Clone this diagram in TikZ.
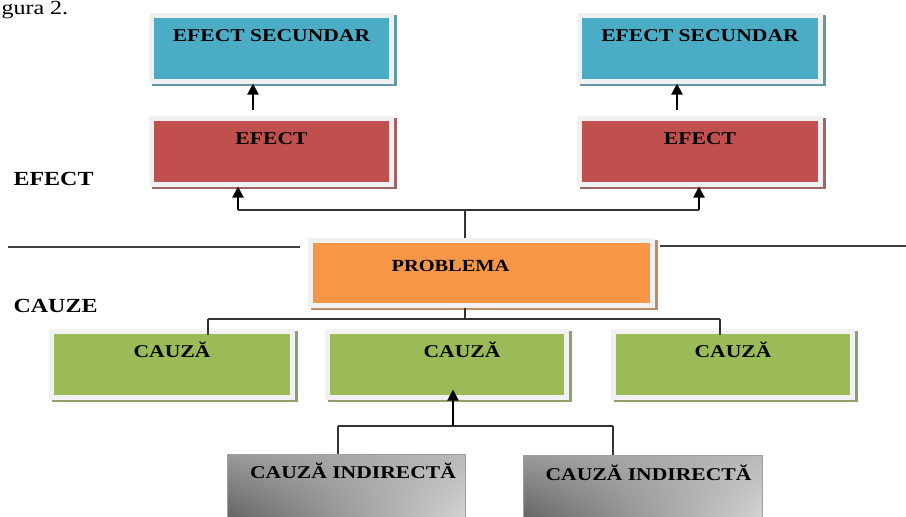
\documentclass[tikz,border=0pt]{standalone}
\usepackage{fontspec}
\setmainfont{Liberation Serif}[FakeStretch=1.2]
\usetikzlibrary{arrows.meta,shadows,shadings}
\definecolor{efsec}{HTML}{4BACC6}
\definecolor{efred}{HTML}{C0504D}
\definecolor{probor}{HTML}{F79646}
\definecolor{cauzgr}{HTML}{9BBB59}
\definecolor{frame}{HTML}{F1F1F1}
\begin{document}
\begin{tikzpicture}[x=1pt,y=-1pt,
  box/.style={fill=#1, draw=frame, line width=5pt, inner sep=0pt, anchor=north,
    minimum width=240pt, text height=26pt, text depth=40pt,
    font=\fontsize{18}{20}\selectfont\bfseries,
    general shadow={fill=#1!55!gray, draw=#1!55!gray, line width=5pt,
      shadow xshift=2.5pt, shadow yshift=-2.5pt}},
  greybox/.style={shade, upper left=gray!80, upper right=gray!55,
    lower left=black!65, lower right=gray!30, draw=gray!75, line width=1pt,
    inner sep=0pt, anchor=north, minimum width=238pt, text height=24pt,
    text depth=52pt, font=\fontsize{18}{20}\selectfont\bfseries},
  link/.style={line width=1.5pt, black!80},
  arr/.style={line width=2pt, -{Triangle[width=11pt,length=11pt]}},
  sep/.style={line width=1.2pt, black!75},
  side/.style={anchor=base west, font=\fontsize{20}{22}\selectfont\bfseries}]
\useasboundingbox (0,0) rectangle (906,517);
\clip (0,0) rectangle (906,517);

\node[anchor=base west, font=\fontsize{20}{22}\selectfont] (fig) at (-2,14) {gura 2.};
\node[side] (lefect) at (10,185) {EFECT};
\node[side] (lcauze) at (10,312) {CAUZE};

% efecte
\node[box=efsec] (es1) at (271.5,12.5) {EFECT SECUNDAR};
\node[box=efsec, minimum width=241pt] (es2) at (700,12.5) {EFECT SECUNDAR};
\node[box=efred] (ef1) at (271.5,115.5) {EFECT};
\node[box=efred, minimum width=241pt] (ef2) at (700,115.5) {EFECT};
\draw[arr] ([xshift=-18.5pt,yshift=6pt]ef1.north) -- ([xshift=-18.5pt]es1.south);
\draw[arr] ([xshift=-23pt,yshift=6pt]ef2.north) -- ([xshift=-23pt]es2.south);

% problema
\node[box=probor, minimum width=342pt, text height=31.5pt, text depth=33.5pt,
  font=\fontsize{17}{20}\selectfont\bfseries] (prob) at (481.5,237.5) {PROBLEMA\hspace*{62pt}};
\draw[sep] (8,247) -- (300,247);
\draw[sep] (660,246) -- (906,246);

\coordinate (efl) at (238,210);
\coordinate (efm) at (465,210);
\coordinate (efr) at (699,210);
\draw[link] (efl) -- (efr);
\draw[link] (prob.north -| efm) -- (efm);
\draw[arr] (efl) -- (efl |- ef1.south);
\draw[arr] (efr) -- (efr |- ef2.south);

% cauze
\node[box=cauzgr, minimum width=241pt] (ca1) at (172,328.5) {CAUZĂ};
\node[box=cauzgr, minimum width=239pt] (ca2) at (447,328.5) {\hspace*{30pt}CAUZĂ};
\node[box=cauzgr, minimum width=239pt] (ca3) at (733,328.5) {CAUZĂ};

\coordinate (cal) at (208,319);
\coordinate (cam) at (465,319);
\coordinate (car) at (720,319);
\draw[link] (cal) -- (car);
\draw[link] (prob.south -| cam) -- (cam);
\draw[link] (cal) -- ([yshift=-6pt]cal |- ca1.north);
\draw[link] (car) -- ([yshift=-6pt]car |- ca3.north);

% cauze indirecte
\node[greybox] (ci1) at (346,454) {\hspace*{14pt}CAUZĂ INDIRECTĂ};
\node[greybox, text height=25pt, text depth=51pt, minimum width=239pt] (ci2) at (642.5,455) {\hspace*{12pt}CAUZĂ INDIRECTĂ};

\coordinate (cil) at (338,426);
\coordinate (cim) at (453,426);
\coordinate (cir) at (613,426);
\draw[link] (cil) -- (cir);
\draw[link] (cil) -- (cil |- ci1.north);
\draw[link] (cir) -- (cir |- ci2.north);
\draw[arr] (cim) -- ([yshift=10pt]cim |- ca2.south);

\end{tikzpicture}
\end{document}
